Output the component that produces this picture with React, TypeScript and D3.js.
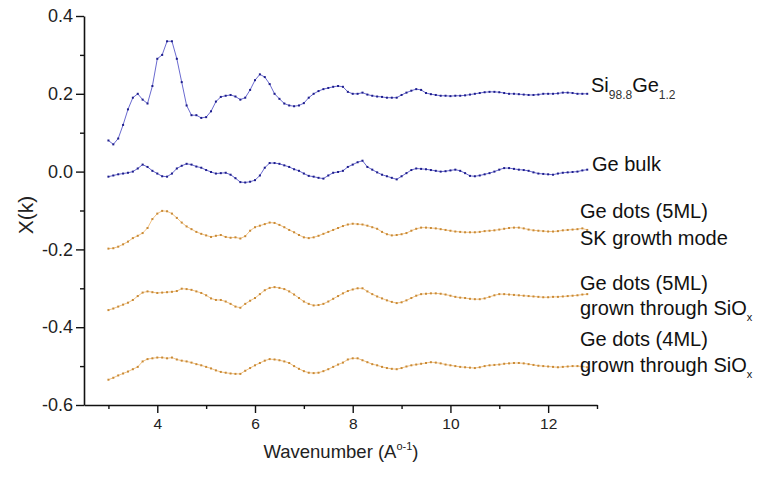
import React, { useEffect, useRef } from 'react';
import * as d3 from 'd3';

// k grid of the EXAFS spectra (A°^-1)
const wavenumber = [
  3.0, 3.1, 3.2, 3.3, 3.4, 3.5, 3.6, 3.7, 3.8, 3.9,
  4.0, 4.1, 4.2, 4.3, 4.4, 4.5, 4.6, 4.7, 4.8, 4.9,
  5.0, 5.1, 5.2, 5.3, 5.4, 5.5, 5.6, 5.7, 5.8, 5.9,
  6.0, 6.1, 6.2, 6.3, 6.4, 6.5, 6.6, 6.7, 6.8, 6.9,
  7.0, 7.1, 7.2, 7.3, 7.4, 7.5, 7.6, 7.7, 7.8, 7.9,
  8.0, 8.1, 8.2, 8.3, 8.4, 8.5, 8.6, 8.7, 8.8, 8.9,
  9.0, 9.1, 9.2, 9.3, 9.4, 9.5, 9.6, 9.7, 9.8, 9.9,
  10.0, 10.1, 10.2, 10.3, 10.4, 10.5, 10.6, 10.7, 10.8, 10.9,
  11.0, 11.1, 11.2, 11.3, 11.4, 11.5, 11.6, 11.7, 11.8, 11.9,
  12.0, 12.1, 12.2, 12.3, 12.4, 12.5, 12.6, 12.7, 12.8,
];

const si988ge12 = [
  0.08, 0.07, 0.085, 0.12, 0.16, 0.19, 0.2, 0.185, 0.175, 0.22,
  0.29, 0.3, 0.335, 0.335, 0.29, 0.23, 0.17, 0.145, 0.145, 0.138,
  0.14, 0.155, 0.18, 0.192, 0.195, 0.197, 0.193, 0.185, 0.19, 0.21,
  0.235, 0.25, 0.243, 0.225, 0.2, 0.187, 0.175, 0.17, 0.168, 0.17,
  0.176, 0.19, 0.2, 0.207, 0.212, 0.215, 0.218, 0.22, 0.218, 0.205,
  0.2, 0.2, 0.203, 0.198, 0.195, 0.193, 0.192, 0.19, 0.19, 0.19,
  0.197, 0.203, 0.208, 0.212, 0.21, 0.202, 0.199, 0.197, 0.195, 0.195,
  0.194, 0.195, 0.195, 0.196, 0.198, 0.2, 0.202, 0.204, 0.205, 0.205,
  0.204, 0.202, 0.2, 0.2, 0.199, 0.198, 0.197, 0.197, 0.198, 0.2,
  0.2, 0.2, 0.201, 0.203, 0.203, 0.202, 0.2, 0.2, 0.2,
];

const geBulk = [
  -0.013, -0.01, -0.007, -0.005, -0.003, 0.0, 0.008, 0.018, 0.012, 0.002,
  -0.005, -0.012, -0.013, -0.005, 0.008, 0.015, 0.02, 0.018, 0.013, 0.01,
  0.004, -0.001, -0.005, -0.004, -0.003, -0.008, -0.017, -0.027, -0.028, -0.026,
  -0.022, -0.01, 0.01, 0.022, 0.022, 0.02, 0.016, 0.012, 0.006, 0.002,
  -0.005, -0.011, -0.013, -0.016, -0.018, -0.01, -0.003, -0.001, 0.002, 0.012,
  0.018, 0.024, 0.028, 0.012, 0.005, -0.002, -0.008, -0.012, -0.016, -0.02,
  -0.012, -0.004, 0.004, 0.008, 0.007, 0.006, 0.004, 0.002, 0.0, 0.001,
  0.003, 0.005, 0.002, -0.004, -0.011, -0.012, -0.01, -0.007, -0.004, 0.0,
  0.005, 0.009, 0.009, 0.007, 0.005, 0.004, 0.002, -0.002, -0.005, -0.006,
  -0.007, -0.008, -0.005, -0.003, -0.002, -0.001, 0.0, 0.003, 0.005,
];

const geDots5mlSk = [
  -0.198, -0.197, -0.193, -0.187, -0.18, -0.171, -0.165, -0.158, -0.145, -0.122,
  -0.108, -0.101, -0.102, -0.108, -0.119, -0.131, -0.141, -0.148, -0.155, -0.16,
  -0.164, -0.168, -0.165, -0.163, -0.168, -0.17, -0.169, -0.172, -0.166, -0.152,
  -0.143, -0.139, -0.135, -0.131, -0.132, -0.137, -0.143, -0.15, -0.156, -0.163,
  -0.169, -0.171, -0.169, -0.165, -0.16, -0.155, -0.15, -0.145, -0.14, -0.136,
  -0.134, -0.135, -0.136, -0.139, -0.143, -0.147, -0.155, -0.161, -0.164, -0.163,
  -0.161, -0.158, -0.152, -0.147, -0.144, -0.144, -0.145, -0.146, -0.148, -0.15,
  -0.152, -0.154, -0.155, -0.156, -0.156, -0.156, -0.155, -0.153, -0.152, -0.151,
  -0.149, -0.147, -0.145, -0.144, -0.144, -0.146, -0.149, -0.151, -0.152, -0.153,
  -0.154, -0.154, -0.153, -0.151, -0.15, -0.149, -0.148, -0.146, -0.15,
];

const geDots5mlSiox = [
  -0.356, -0.352, -0.347, -0.342, -0.337, -0.33, -0.32, -0.311, -0.308, -0.31,
  -0.312, -0.311, -0.31, -0.309, -0.307, -0.301, -0.302, -0.304, -0.308, -0.312,
  -0.318, -0.326, -0.33, -0.33, -0.334, -0.34, -0.347, -0.35, -0.34, -0.332,
  -0.325, -0.315, -0.305, -0.299, -0.297, -0.299, -0.302, -0.308, -0.316, -0.325,
  -0.334, -0.34, -0.344, -0.343, -0.34, -0.334, -0.327, -0.32, -0.313, -0.307,
  -0.303, -0.3, -0.3, -0.308, -0.315, -0.321, -0.326, -0.331, -0.335, -0.338,
  -0.336, -0.331, -0.325, -0.319, -0.315, -0.314, -0.313, -0.313, -0.314, -0.316,
  -0.319, -0.322, -0.324, -0.325, -0.327, -0.328, -0.328, -0.326, -0.322, -0.318,
  -0.315, -0.315, -0.316, -0.317, -0.318, -0.319, -0.32, -0.321, -0.322, -0.323,
  -0.323, -0.322, -0.322, -0.321, -0.32, -0.319, -0.318, -0.316, -0.315,
];

const geDots4mlSiox = [
  -0.535, -0.53, -0.524, -0.519, -0.514, -0.508, -0.502, -0.488, -0.482, -0.48,
  -0.478, -0.478, -0.48, -0.478, -0.483, -0.486, -0.488, -0.491, -0.495, -0.498,
  -0.502, -0.506, -0.511, -0.515, -0.517, -0.519, -0.52, -0.52, -0.512, -0.505,
  -0.498, -0.492, -0.486, -0.482, -0.483, -0.485, -0.488, -0.492, -0.5, -0.507,
  -0.513, -0.517, -0.518, -0.517, -0.513, -0.508, -0.502, -0.496, -0.491, -0.483,
  -0.48, -0.48, -0.485, -0.49, -0.495, -0.498, -0.502, -0.505, -0.507, -0.508,
  -0.505, -0.501, -0.498, -0.496, -0.494, -0.492, -0.49, -0.491, -0.493, -0.496,
  -0.498, -0.5, -0.502, -0.503, -0.504, -0.505, -0.503, -0.5, -0.498, -0.497,
  -0.496, -0.494, -0.493, -0.492, -0.492, -0.493, -0.495, -0.497, -0.499, -0.5,
  -0.501, -0.502, -0.503, -0.502, -0.501, -0.5, -0.5, -0.501, -0.503,
];

const xMajorTicks = [4, 6, 8, 10, 12];
const xMinorTicks = [3, 5, 7, 9, 11, 13];
const yMajorTicks = [-0.6, -0.4, -0.2, 0.0, 0.2, 0.4];
const yMinorTicks = [-0.5, -0.3, -0.1, 0.1, 0.3];

const FONT = "Arial, 'Liberation Sans', sans-serif";

export default function App() {
  const svgRef = useRef<SVGSVGElement>(null);

  useEffect(() => {
    const width = 758;
    const height = 477;
    const svg = d3.select(svgRef.current).attr('width', width).attr('height', height);
    svg.selectAll('*').remove();

    const x = d3.scaleLinear().domain([2.5, 13]).range([84, 597]);
    const y = d3.scaleLinear().domain([-0.6, 0.4]).range([405, 16]);

    const blue = { line: '#6a6ad0', dot: '#1e1e8c' };
    const orange = { line: '#f2c488', dot: '#c98a35' };

    const series = [
      { values: si988ge12, color: blue },
      { values: geBulk, color: blue },
      { values: geDots5mlSk, color: orange },
      { values: geDots5mlSiox, color: orange },
      { values: geDots4mlSiox, color: orange },
    ];

    const line = d3.line<number>()
      .x((_, i) => x(wavenumber[i]))
      .y((d) => y(d));

    series.forEach((s) => {
      svg.append('path')
        .attr('d', line(s.values))
        .attr('fill', 'none')
        .attr('stroke', s.color.line)
        .attr('stroke-width', 1);

      svg.append('g')
        .selectAll('rect')
        .data(s.values)
        .join('rect')
        .attr('x', (_, i) => x(wavenumber[i]) - 1)
        .attr('y', (d) => y(d) - 1)
        .attr('width', 2)
        .attr('height', 2)
        .attr('fill', s.color.dot);
    });

    // axes
    const styleAxis = (g: any, fontSize: number, withLabels: boolean) => {
      g.selectAll('line').attr('stroke', '#111').attr('stroke-width', 1.4);
      g.select('.domain').attr('stroke', '#111').attr('stroke-width', 1.6);
      g.selectAll('text')
        .attr('fill', '#222')
        .attr('font-family', FONT)
        .attr('font-size', fontSize);
      if (!withLabels) g.selectAll('text').remove();
    };

    const yAxis = svg.append('g').attr('transform', 'translate(84,0)')
      .call(d3.axisLeft(y).tickValues(yMajorTicks).tickSize(8).tickSizeOuter(0).tickPadding(3)
        .tickFormat((d: any) => (+d).toFixed(1)));
    styleAxis(yAxis, 18, true);

    const yMinor = svg.append('g').attr('transform', 'translate(84,0)')
      .call(d3.axisLeft(y).tickValues(yMinorTicks).tickSize(4).tickSizeOuter(0));
    yMinor.select('.domain').remove();
    styleAxis(yMinor, 18, false);

    const xAxis = svg.append('g').attr('transform', 'translate(0,405)')
      .call(d3.axisBottom(x).tickValues(xMajorTicks).tickSize(8).tickSizeOuter(0).tickPadding(5)
        .tickFormat((d: any) => String(d)));
    styleAxis(xAxis, 15.5, true);

    const xMinor = svg.append('g').attr('transform', 'translate(0,405)')
      .call(d3.axisBottom(x).tickValues(xMinorTicks).tickSize(4).tickSizeOuter(0));
    xMinor.select('.domain').remove();
    styleAxis(xMinor, 15, false);

    // axis titles
    svg.append('text')
      .attr('transform', 'translate(33,215) rotate(-90)')
      .attr('text-anchor', 'middle')
      .attr('font-family', FONT)
      .attr('font-size', 21)
      .attr('fill', '#222')
      .text('X(k)');

    const xTitle = svg.append('text')
      .attr('x', 341)
      .attr('y', 458)
      .attr('text-anchor', 'middle')
      .attr('font-family', FONT)
      .attr('font-size', 18.5)
      .attr('fill', '#222');
    xTitle.append('tspan').text('Wavenumber (A');
    xTitle.append('tspan').attr('font-size', 11).attr('dy', -8).text('o-1');
    xTitle.append('tspan').attr('dy', 8).text(')');

    // series labels
    const label = (lx: number, ly: number) => svg.append('text')
      .attr('x', lx)
      .attr('y', ly)
      .attr('font-family', FONT)
      .attr('font-size', 20)
      .attr('fill', '#111');

    const si = label(591, 92);
    si.append('tspan').text('Si');
    si.append('tspan').attr('font-size', 12).attr('dy', 7).attr('fill', '#333').text('98.8');
    si.append('tspan').attr('dy', -7).text('Ge');
    si.append('tspan').attr('font-size', 12).attr('dy', 7).attr('fill', '#333').text('1.2');

    label(592, 171).text('Ge bulk');

    label(580, 218).text('Ge dots (5ML)');
    label(580, 245).text('SK growth mode');

    label(580, 290).text('Ge dots (5ML)');
    const g2 = label(580, 315);
    g2.append('tspan').text('grown through SiO');
    g2.append('tspan').attr('font-size', 11).attr('dy', 6).text('x');

    label(580, 346).text('Ge dots (4ML)');
    const g3 = label(580, 372);
    g3.append('tspan').text('grown through SiO');
    g3.append('tspan').attr('font-size', 11).attr('dy', 6).text('x');
  }, []);

  return (
    <svg ref={svgRef} style={{ position: 'absolute', left: 0, top: 0, background: '#fff' }} />
  );
}
